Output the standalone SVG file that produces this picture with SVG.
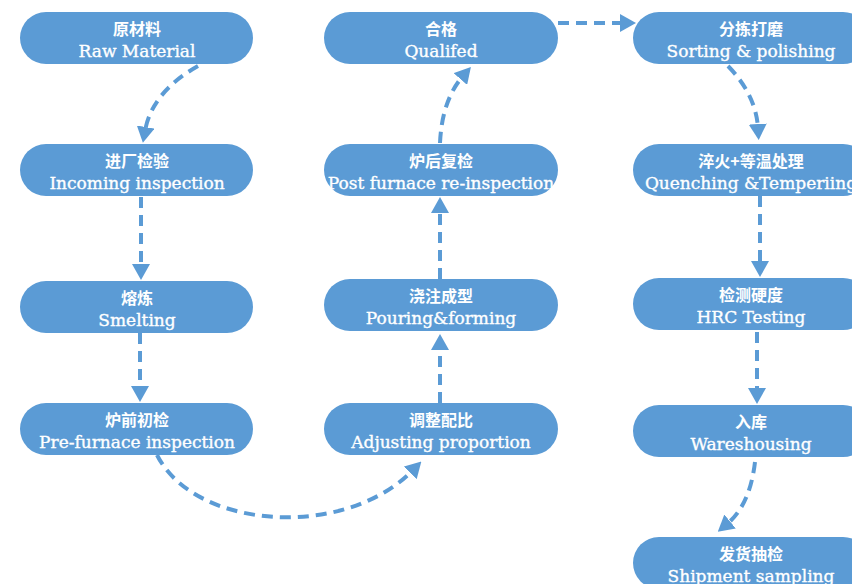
<svg xmlns="http://www.w3.org/2000/svg" width="852" height="584" viewBox="0 0 852 584">
<defs>
<style>
.box{fill:#5b9bd5;}
.cn{font-family:"Noto Sans CJK SC","Noto Sans CJK TC",sans-serif;font-size:16px;font-weight:700;fill:#ffffff;text-anchor:middle;}
.en{font-family:"DejaVu Serif","Liberation Serif",serif;font-size:17px;fill:#ffffff;stroke:#ffffff;stroke-width:0.35;text-anchor:middle;}
.conn{fill:none;stroke:#5b9bd5;stroke-width:4;stroke-dasharray:11 7;}
</style>
<marker id="arr" viewBox="0 0 16 18" refX="4" refY="9" markerWidth="16" markerHeight="18" markerUnits="userSpaceOnUse" orient="auto">
<path d="M0,0 L16,9 L0,18 z" fill="#5b9bd5"/>
</marker>
</defs>
<rect width="852" height="584" fill="#ffffff"/>
<g id="connectors">
<path class="conn" d="M 198 66 Q 152 92 145 131" marker-end="url(#arr)"/>
<path class="conn" d="M 141 197 L 141 268" marker-end="url(#arr)"/>
<path class="conn" d="M 140 333 L 140 390" marker-end="url(#arr)"/>
<path class="conn" d="M 157 455 C 195 530 345 540 413 470" marker-end="url(#arr)"/>
<path class="conn" d="M 440 403 L 440 346" marker-end="url(#arr)"/>
<path class="conn" d="M 440 279 L 440 209" marker-end="url(#arr)"/>
<path class="conn" d="M 440 143 Q 442 100 463 76" marker-end="url(#arr)"/>
<path class="conn" d="M 558 23 L 624 23" marker-end="url(#arr)"/>
<path class="conn" d="M 728 66 Q 756 95 758 128" marker-end="url(#arr)"/>
<path class="conn" d="M 760 196 L 760 265" marker-end="url(#arr)"/>
<path class="conn" d="M 757 332 L 757 392" marker-end="url(#arr)"/>
<path class="conn" d="M 755 462 Q 750 505 727 524" marker-end="url(#arr)"/>
</g>
<g id="n1"><rect class="box" x="20" y="12" width="233" height="52" rx="26"/><text class="cn" x="137" y="35">原材料</text><text class="en" x="137" y="57">Raw Material</text></g>
<g id="n2"><rect class="box" x="20" y="144" width="233" height="52" rx="26"/><text class="cn" x="137" y="167">进厂检验</text><text class="en" x="137" y="189">Incoming inspection</text></g>
<g id="n3"><rect class="box" x="20" y="281" width="233" height="52" rx="26"/><text class="cn" x="137" y="304">熔炼</text><text class="en" x="137" y="326">Smelting</text></g>
<g id="n4"><rect class="box" x="20" y="403" width="233" height="52" rx="26"/><text class="cn" x="137" y="426">炉前初检</text><text class="en" x="137" y="448">Pre-furnace inspection</text></g>
<g id="n5"><rect class="box" x="324" y="403" width="234" height="52" rx="26"/><text class="cn" x="441" y="426">调整配比</text><text class="en" x="441" y="448">Adjusting proportion</text></g>
<g id="n6"><rect class="box" x="324" y="279" width="234" height="52" rx="26"/><text class="cn" x="441" y="302">浇注成型</text><text class="en" x="441" y="324">Pouring&amp;forming</text></g>
<g id="n7"><rect class="box" x="324" y="144" width="234" height="52" rx="26"/><text class="cn" x="441" y="167">炉后复检</text><text class="en" x="441" y="189">Post furnace re-inspection</text></g>
<g id="n8"><rect class="box" x="324" y="12" width="234" height="52" rx="26"/><text class="cn" x="441" y="35">合格</text><text class="en" x="441" y="57">Qualifed</text></g>
<g id="n9"><rect class="box" x="633" y="12" width="236" height="52" rx="26"/><text class="cn" x="751" y="35">分拣打磨</text><text class="en" x="751" y="57">Sorting &amp; polishing</text></g>
<g id="n10"><rect class="box" x="633" y="144" width="236" height="52" rx="26"/><text class="cn" x="751" y="167">淬火+等温处理</text><text class="en" x="751" y="189">Quenching &amp;Temperiing</text></g>
<g id="n11"><rect class="box" x="633" y="278" width="236" height="52" rx="26"/><text class="cn" x="751" y="301">检测硬度</text><text class="en" x="751" y="323">HRC Testing</text></g>
<g id="n12"><rect class="box" x="633" y="405" width="236" height="52" rx="26"/><text class="cn" x="751" y="428">入库</text><text class="en" x="751" y="450">Wareshousing</text></g>
<g id="n13"><rect class="box" x="633" y="537" width="236" height="52" rx="26"/><text class="cn" x="751" y="560">发货抽检</text><text class="en" x="751" y="582">Shipment sampling</text></g>
</svg>
